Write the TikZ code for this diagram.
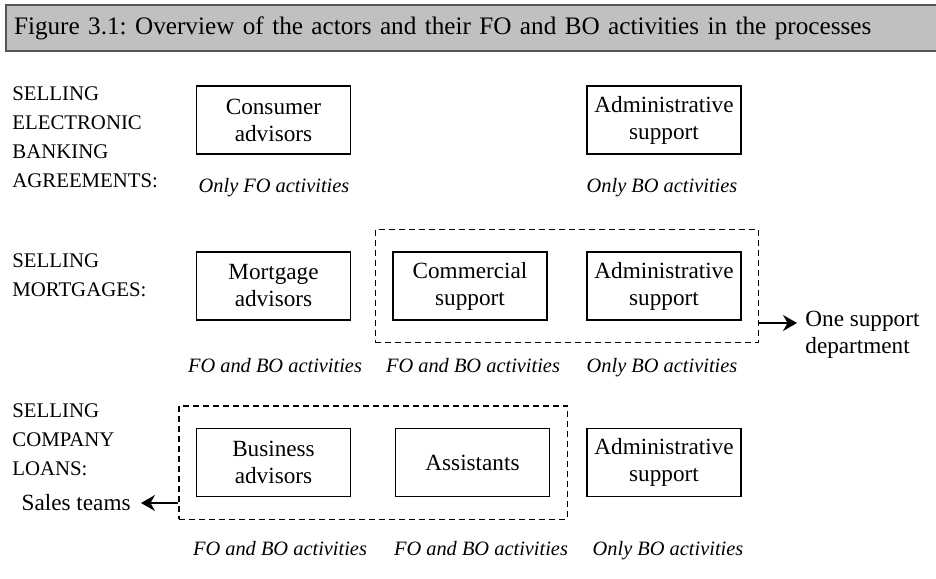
\documentclass[tikz,border=0pt]{standalone}
\usepackage{fontspec}
\setmainfont{Liberation Serif}
\usepackage{tikz}
\usetikzlibrary{arrows.meta,fit}
\frenchspacing

\definecolor{barfill}{RGB}{192,192,192}
\definecolor{barline}{RGB}{85,85,85}

\begin{document}
\begin{tikzpicture}[x=0.5pt,y=-0.5pt,
    actor/.style={draw,line width=0.6pt,minimum width=77pt,minimum height=34pt,align=center,font=\fontsize{11.6}{13.5}\selectfont},
    process/.style={anchor=north west,inner sep=0pt,align=left,font=\fontsize{10.4}{14.5}\selectfont},
    act/.style={anchor=base,font=\fontsize{10.2}{12}\selectfont\itshape},
    team/.style={draw,dash pattern=on 3pt off 2pt,line width=0.6pt,inner xsep=8.5pt,inner ysep=11pt},
    note/.style={align=left,font=\fontsize{11.6}{13.5}\selectfont},
    tip/.style={-{Stealth[length=7pt,width=8pt]},line width=0.65pt}]
   \useasboundingbox (0,0) rectangle (936,578);
   \draw (5,28) node[draw=barline,line width=1pt,fill=barfill,anchor=west,minimum height=23pt,text width=470pt,inner xsep=4pt,align=left,font=\fontsize{12.6}{15}\selectfont] (title) {Figure 3.1: Overview of the actors and their FO and BO activities in the processes};

   % electronic banking
   \draw (12,86) node[process] (sell1) {SELLING\\ELECTRONIC\\BANKING\\AGREEMENTS:};
   \draw (273.5,120) node[actor] (cons) {Consumer\\advisors};
   \draw (664,120) node[actor] (adm1) {Administrative\\support};
   \draw (274,192) node[act] (cons-act) {Only FO activities};
   \draw (662,192) node[act] (adm1-act) {Only BO activities};

   % mortgages
   \draw (12,253) node[process] (sell2) {SELLING\\MORTGAGES:};
   \draw (273.5,286) node[actor] (mort) {Mortgage\\advisors};
   \draw (470,286) node[actor] (comm) {Commercial\\support};
   \draw (664,286) node[actor] (adm2) {Administrative\\support};
   \draw (275,372) node[act] (mort-act) {FO and BO activities};
   \draw (473,372) node[act] (comm-act) {FO and BO activities};
   \draw (662,372) node[act] (adm2-act) {Only BO activities};
   \node[team,fit=(comm)(adm2)] (supp) {};
   \coordinate (supp-tip) at (797,323);
   \draw (805,311) node[note,anchor=north west,inner sep=0pt] (dept) {One support\\department};
     \path[tip] (supp.east |- supp-tip) edge (supp-tip);

   % company loans
   \draw (12,403) node[process] (sell3) {SELLING\\COMPANY\\LOANS:};
   \draw (273.5,462.5) node[actor] (bus) {Business\\advisors};
   \draw (472.5,462.5) node[actor] (assi) {Assistants};
   \draw (664,462.5) node[actor] (adm3) {Administrative\\support};
   \draw (280,555) node[act] (bus-act) {FO and BO activities};
   \draw (481,555) node[act] (assi-act) {FO and BO activities};
   \draw (668,555) node[act] (adm3-act) {Only BO activities};
   \node[team,fit=(bus)(assi)] (teams) {};
   \draw (141,503) node[note,anchor=east,inner xsep=5pt] (sales) {Sales teams};
     \path[tip] (teams.west |- sales.east) edge (sales.east);
\end{tikzpicture}
\end{document}
